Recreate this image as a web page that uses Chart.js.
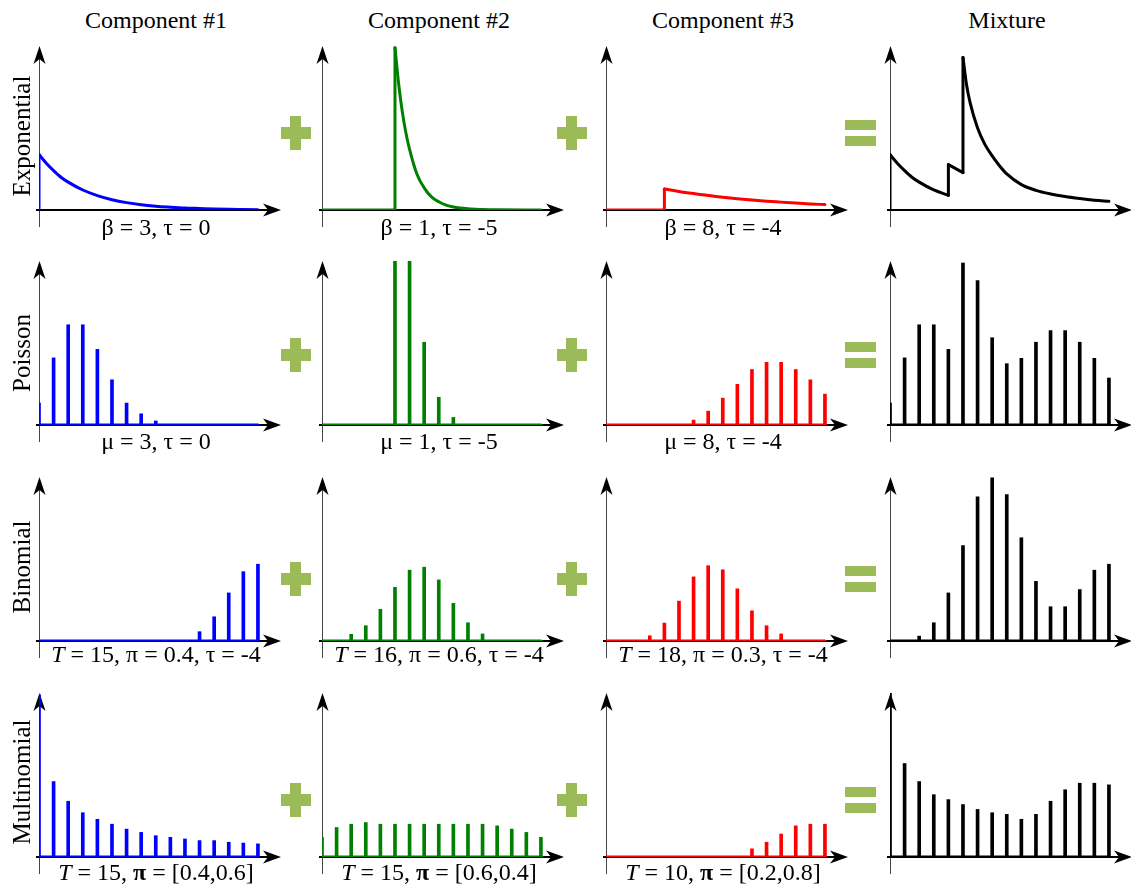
<!DOCTYPE html>
<html>
<head>
<meta charset="utf-8">
<script src="https://cdn.jsdelivr.net/npm/chart.js@4.4.0/dist/chart.umd.min.js"></script>
<style>
body { margin: 0; background: #fff; width: 1131px; height: 887px; position: relative; overflow: hidden;
       font-family: "Liberation Serif", "Times New Roman", serif; }
canvas { position: absolute; }
.txt { position: absolute; font-size: 24px; line-height: 1; white-space: nowrap; color: #000;
       transform: translate(-50%, -50%); }
.rowlab { font-size: 25px; transform: translate(-50%, -50%) rotate(-90deg); }
.sign { position: absolute; background: #9bbb59; }
</style>
</head>
<body>
<script>
// ---- labels ----
const colTitles = ["Component #1", "Component #2", "Component #3", "Mixture"];
const rowTitles = ["Exponential", "Poisson", "Binomial", "Multinomial"];
const paramLabels = [
    ["β = 3, τ = 0", "β = 1, τ = -5", "β = 8, τ = -4"],
    ["μ = 3, τ = 0", "μ = 1, τ = -5", "μ = 8, τ = -4"],
    ["<i>T</i> = 15, π = 0.4, τ = -4", "<i>T</i> = 16, π = 0.6, τ = -4", "<i>T</i> = 18, π = 0.3, τ = -4"],
    ["<i>T</i> = 15, <b>π</b> = [0.4,0.6]", "<i>T</i> = 15, <b>π</b> = [0.6,0.4]", "<i>T</i> = 10, <b>π</b> = [0.2,0.8]"]
];

// ---- exponential row (x, y pairs; a repeated x is a jump) ----
const exp1X = [0, 0, 0.5, 1, 1.5, 2, 3, 4, 5, 6, 7, 8, 9, 10, 11, 12, 13, 14, 15];
const exp1Y = [0, .338, .285, .24, .2, .17, .122, .088, .063, .045, .032, .023, .017, .012, .009, .006, .004, .003, .002];
const exp2X = [0, 5, 5, 5.25, 5.5, 5.75, 6, 6.5, 7, 7.5, 8, 8.5, 9, 10, 11, 12, 15];
const exp2Y = [0, 0, .99, .77, .6, .47, .37, .22, .135, .08, .05, .03, .018, .007, .003, .001, 0];
const exp3X = [0, 4, 4, 5, 6, 7, 8, 9, 10, 11, 12, 13, 14, 15];
const exp3Y = [0, 0, .128, .113, .1, .088, .078, .069, .061, .054, .048, .042, .037, .033];
const expMixX = [0, 0, 0.5, 1, 1.5, 2, 3, 4, 4, 5, 5, 5.25, 5.5, 6, 6.5, 7, 7.5, 8, 9, 10, 11, 12, 13, 14, 15];
const expMixY = [0, .338, .285, .24, .2, .17, .122, .09, .277, .228, .93, .76, .65, .5, .4, .33, .27, .22, .155, .12, .098, .082, .07, .06, .053];

// ---- stem rows ----
const stemX = [0, 1, 2, 3, 4, 5, 6, 7, 8, 9, 10, 11, 12, 13, 14, 15];
const poisson1 = [.049, .150, .224, .224, .169, .101, .049, .025, .009, 0, 0, 0, 0, 0, 0, 0];
const poisson2 = [0, 0, 0, 0, 0, .368, .368, .185, .062, .017, 0, 0, 0, 0, 0, 0];
const poisson3 = [0, 0, 0, 0, 0, 0, .011, .031, .06, .091, .124, .14, .14, .124, .101, .069];
const poissonMix = [.049, .15, .224, .224, .169, .362, .323, .195, .137, .149, .185, .211, .211, .185, .149, .105];

const binom1 = [0, 0, 0, 0, 0, 0, 0, 0, 0, 0, 0, .025, .065, .129, .186, .206];
const binom2 = [0, 0, .018, .041, .085, .144, .19, .198, .164, .101, .049, .019, 0, 0, 0, 0];
const binom3 = [0, 0, 0, .014, .048, .107, .172, .202, .191, .14, .081, .041, .019, 0, 0, 0];
const binomMix = [0, 0, .013, .049, .129, .256, .387, .438, .393, .277, .16, .092, .092, .138, .19, .206];

const multi1 = [.99, .46, .34, .27, .23, .2, .17, .15, .13, .12, .11, .1, .1, .09, .085, .08];
const multi2 = [.12, .18, .2, .21, .2, .2, .2, .2, .2, .2, .2, .2, .19, .17, .15, .12];
const multi3 = [0, 0, 0, 0, 0, 0, 0, 0, 0, 0, .05, .09, .14, .19, .2, .2];
const multiMix = [1, .57, .46, .38, .35, .32, .29, .27, .26, .23, .26, .34, .41, .45, .45, .44];

const rowMax = [1.0, 0.3665, 0.44, 1.0];
const colors = ["#0000ff", "#008000", "#ff0000", "#000000"];

// ---- layout ----
const colX = [39, 322, 606, 890];
const rowTop = [46, 261, 477, 693];
const AXIS_H = 164, PLOT_W = 242, X_MAX = 16.58;
const PAD = { l: 10, r: 4, t: 2, b: 20 };

const arrowAxes = {
    id: 'arrowAxes',
    beforeDatasetsDraw(chart) {
        const { ctx, chartArea: a } = chart;
        ctx.save();
        ctx.strokeStyle = '#444';
        ctx.lineWidth = 1;
        ctx.beginPath();
        ctx.moveTo(a.left + 0.5, a.bottom + 17);
        ctx.lineTo(a.left + 0.5, a.top + 10);
        ctx.stroke();
        ctx.strokeStyle = '#000';
        ctx.lineWidth = 2;
        ctx.beginPath();
        ctx.moveTo(a.left - 3, a.bottom);
        ctx.lineTo(a.right - 10, a.bottom);
        ctx.stroke();
        ctx.fillStyle = '#000';
        // y arrow head
        ctx.beginPath();
        ctx.moveTo(a.left + 0.5, a.top);
        ctx.lineTo(a.left + 6.5, a.top + 18);
        ctx.lineTo(a.left + 0.5, a.top + 13);
        ctx.lineTo(a.left - 5.5, a.top + 18);
        ctx.closePath();
        ctx.fill();
        // x arrow head
        ctx.beginPath();
        ctx.moveTo(a.right, a.bottom);
        ctx.lineTo(a.right - 18, a.bottom - 6.5);
        ctx.lineTo(a.right - 13, a.bottom);
        ctx.lineTo(a.right - 18, a.bottom + 6.5);
        ctx.closePath();
        ctx.fill();
        ctx.restore();
    }
};

function lineDs(pts, color, smooth) {
    return {
        type: 'line', data: pts, borderColor: color, borderWidth: 3, pointRadius: 0,
        fill: false, tension: 0, cubicInterpolationMode: smooth ? 'monotone' : 'default',
        borderCapStyle: 'round', borderJoinStyle: 'round'
    };
}

function curveDatasets(xs, ys, color) {
    const out = [];
    let seg = [{ x: xs[0], y: ys[0] }];
    for (let i = 1; i < xs.length; i++) {
        const p = { x: xs[i], y: ys[i] };
        if (xs[i] === xs[i - 1]) {
            if (seg.length > 1) out.push(lineDs(seg, color, true));
            out.push(lineDs([seg[seg.length - 1], p], color, false));
            seg = [p];
        } else {
            seg.push(p);
        }
    }
    if (seg.length > 1) out.push(lineDs(seg, color, true));
    return out;
}

function stemDatasets(values, color) {
    return [
        {
            type: 'bar', data: stemX.map((x, i) => ({ x: x, y: values[i] })),
            backgroundColor: color, borderWidth: 0, barThickness: 3
        },
        lineDs([{ x: stemX[0], y: 0 }, { x: stemX[stemX.length - 1], y: 0 }], color, false)
    ];
}

function makePanel(row, col, datasets) {
    const cv = document.createElement('canvas');
    cv.width = PLOT_W + PAD.l + PAD.r;
    cv.height = AXIS_H + PAD.t + PAD.b;
    cv.style.left = (colX[col] - PAD.l) + 'px';
    cv.style.top = (rowTop[row] - PAD.t) + 'px';
    document.body.appendChild(cv);
    new Chart(cv, {
        type: 'line',
        data: { datasets: datasets },
        options: {
            responsive: false,
            animation: false,
            events: [],
            layout: { padding: { left: PAD.l, right: PAD.r, top: PAD.t, bottom: PAD.b } },
            plugins: { legend: { display: false }, tooltip: { enabled: false } },
            scales: {
                x: { type: 'linear', min: 0, max: X_MAX, display: false, offset: false },
                y: { type: 'linear', min: 0, max: rowMax[row], display: false }
            }
        },
        plugins: [arrowAxes]
    });
}

const expCurves = [[exp1X, exp1Y], [exp2X, exp2Y], [exp3X, exp3Y], [expMixX, expMixY]];
expCurves.forEach((c, col) => makePanel(0, col, curveDatasets(c[0], c[1], colors[col])));

const stemRows = [
    [poisson1, poisson2, poisson3, poissonMix],
    [binom1, binom2, binom3, binomMix],
    [multi1, multi2, multi3, multiMix]
];
stemRows.forEach((r, i) => r.forEach((vals, col) => makePanel(i + 1, col, stemDatasets(vals, colors[col]))));

// ---- text ----
function addText(html, x, y, cls) {
    const d = document.createElement('div');
    d.className = 'txt' + (cls ? ' ' + cls : '');
    d.innerHTML = html;
    d.style.left = x + 'px';
    d.style.top = y + 'px';
    document.body.appendChild(d);
}
const paramY = [227, 441, 654, 872];
const rowLabY = [136, 353, 567, 782];
colTitles.forEach((t, col) => addText(t, colX[col] + 117, 20));
rowTitles.forEach((t, row) => addText(t, 21, rowLabY[row], 'rowlab'));
paramLabels.forEach((r, row) => r.forEach((t, col) => addText(t, colX[col] + 117, paramY[row])));

// ---- plus / equals signs ----
function addBar(cx, cy, w, h) {
    const d = document.createElement('div');
    d.className = 'sign';
    d.style.left = (cx - w / 2) + 'px';
    d.style.top = (cy - h / 2) + 'px';
    d.style.width = w + 'px';
    d.style.height = h + 'px';
    document.body.appendChild(d);
}
const signY = [133, 355, 579, 800];
signY.forEach(y => {
    [295.5, 571.5].forEach(x => { addBar(x, y, 30, 12); addBar(x, y, 11, 34); });
    addBar(860.5, y - 8, 31, 10.5);
    addBar(860.5, y + 8, 31, 10.5);
});
</script>
</body>
</html>
